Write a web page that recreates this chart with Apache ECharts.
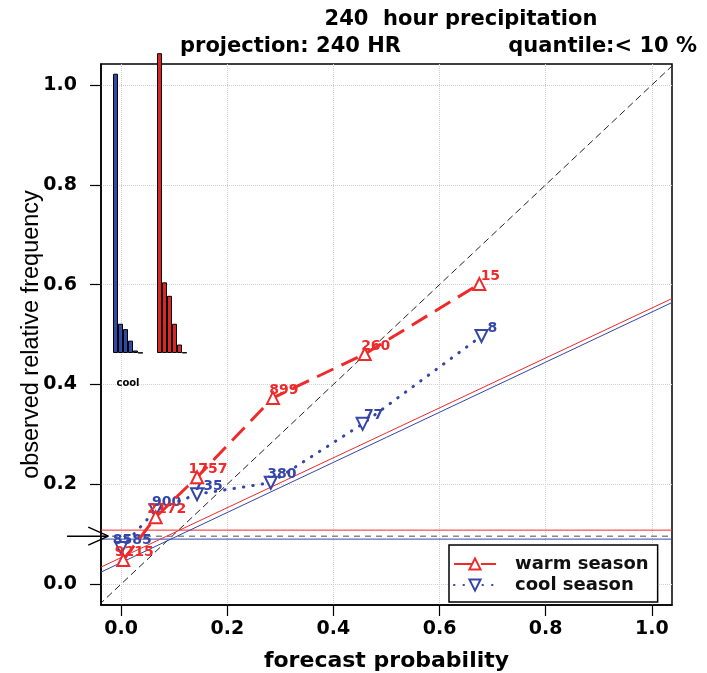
<!DOCTYPE html>
<html>
<head>
<meta charset="utf-8">
<title>240 hour precipitation reliability</title>
<script src="https://cdn.jsdelivr.net/npm/echarts@6.0.0/dist/echarts.min.js"></script>
<style>
  html, body { margin: 0; padding: 0; background: #fff; }
  #chart { width: 707px; height: 673px; }
</style>
</head>
<body>
<div id="chart"></div>
<script>
  // reliability points
  var warmProb = [0.004, 0.065, 0.143, 0.286, 0.459, 0.675];
  var warmObs = [0.048, 0.134, 0.214, 0.373, 0.461, 0.601];
  var warmCount = [9215, 2172, 1757, 899, 260, 15];

  var coolProb = [0.0, 0.065, 0.143, 0.282, 0.455, 0.679];
  var coolObs = [0.072, 0.148, 0.180, 0.203, 0.321, 0.497];
  var coolCount = [8585, 900, 735, 380, 77, 8];

  // fitted lines: [intercept, slope]
  var warmFit = [0.053, 0.500];
  var coolFit = [0.043, 0.502];

  // sample climatology
  var warmClim = 0.108;
  var coolClim = 0.090;
  var allClim = 0.096;

  var tickValues = [0, 0.2, 0.4, 0.6, 0.8, 1.0];

  var RED = '#ee2a2a';
  var BLUE = '#3446a8';
  var BOLD = 'DejaVu Sans';

  var xMin = -0.038, xMax = 1.038;
  var yMin = -0.042, yMax = 1.042;

  // main plot box in pixels
  var boxLeft = 101, boxRight = 35, boxTop = 64, boxBottom = 68;
  var pxPerX = (707 - boxLeft - boxRight) / (xMax - xMin);

  function pairs(xs, ys) {
    return xs.map(function (x, i) { return [x, ys[i]]; });
  }
  function fitLine(f) {
    return [[xMin, f[0] + f[1] * xMin], [xMax, f[0] + f[1] * xMax]];
  }
  function hLine(y) {
    return [[xMin, y], [xMax, y]];
  }
  function plain(name, data, color, width, type, z) {
    return {
      name: name, type: 'line', data: data, symbol: 'none', silent: true,
      z: z || 2,
      lineStyle: { color: color, width: width, type: type || 'solid' }
    };
  }
  function countLabel(counts, color) {
    return {
      show: true,
      position: 'inside',
      offset: [11, -8],
      formatter: function (p) { return counts[p.dataIndex]; },
      color: color,
      fontFamily: BOLD,
      fontWeight: 'bold',
      fontSize: 14
    };
  }

  var chart = echarts.init(document.getElementById('chart'));

  var axisFont = { fontFamily: BOLD, fontWeight: 'bold', fontSize: 19, color: '#000' };
  var gridLine = { type: 'dotted', color: '#d0d0d0', width: 1 };
  var titleFont = { fontFamily: BOLD, fontWeight: 'bold', fontSize: 21, color: '#000' };

  // the little arrow left of the box lives in its own strip with the same scales
  var arrowLeft = 55, arrowWidth = 56;
  var arrowXMin = xMin - (boxLeft - arrowLeft) / pxPerX;
  var arrowXMax = arrowXMin + arrowWidth / pxPerX;

  var option = {
    animation: false,
    backgroundColor: '#fff',
    title: [
      { text: '240  hour precipitation', left: 456, top: 4, textAlign: 'center', textStyle: titleFont },
      { text: 'projection: 240 HR', left: 175, top: 31, textStyle: titleFont },
      { text: 'quantile:< 10 %', right: 5, top: 31, textStyle: titleFont }
    ],
    legend: {
      data: ['warm season', 'cool season'],
      orient: 'vertical',
      left: 449, top: 545,
      padding: [10, 9, 8, 4],
      itemGap: 3,
      itemWidth: 42, itemHeight: 14,
      backgroundColor: '#fff',
      borderColor: '#000', borderWidth: 1.5,
      textStyle: { fontFamily: BOLD, fontWeight: 'bold', fontSize: 18, color: '#111',
                   lineHeight: 18, padding: [0, 0, 0, 14] }
    },
    grid: [
      { left: boxLeft, right: boxRight, top: boxTop, bottom: boxBottom, show: true,
        borderColor: '#000', borderWidth: 1.5, outerBoundsMode: 'none' },
      { left: 113, width: 30, top: 53, height: 300, outerBoundsMode: 'none' },
      { left: 157, width: 30, top: 53, height: 300, outerBoundsMode: 'none' },
      { left: arrowLeft, width: arrowWidth, top: boxTop, bottom: boxBottom, outerBoundsMode: 'none' }
    ],
    xAxis: [
      {
        type: 'value', min: xMin, max: xMax, gridIndex: 0,
        axisLine: { show: true, onZero: false, lineStyle: { color: '#000', width: 1.5 } },
        axisTick: { show: true, length: 11, customValues: tickValues, lineStyle: { color: '#000', width: 1.2 } },
        axisLabel: Object.assign({ customValues: tickValues, margin: 15,
          formatter: function (v) { return v.toFixed(1); } }, axisFont),
        splitLine: { show: true, lineStyle: gridLine },
        name: 'forecast probability', nameLocation: 'middle', nameGap: 45,
        nameTextStyle: { fontFamily: BOLD, fontWeight: 'bold', fontSize: 22, color: '#000' }
      },
      {
        type: 'category', gridIndex: 1, data: coolCount.map(function (c, i) { return i; }),
        axisLine: { show: false }, axisTick: { show: false }, axisLabel: { show: false },
        name: 'cool', nameLocation: 'middle', nameGap: 25,
        nameTextStyle: { fontFamily: BOLD, fontWeight: 'bold', fontSize: 10, color: '#000' }
      },
      {
        type: 'category', gridIndex: 2, data: warmCount.map(function (c, i) { return i; }),
        axisLine: { show: false }, axisTick: { show: false }, axisLabel: { show: false }
      },
      { type: 'value', gridIndex: 3, min: arrowXMin, max: arrowXMax, show: false }
    ],
    yAxis: [
      {
        type: 'value', min: yMin, max: yMax, gridIndex: 0,
        axisLine: { show: true, onZero: false, lineStyle: { color: '#000', width: 1.5 } },
        axisTick: { show: true, length: 11, customValues: tickValues, lineStyle: { color: '#000', width: 1.2 } },
        axisLabel: Object.assign({ customValues: tickValues, margin: 24,
          formatter: function (v) { return v.toFixed(1); } }, axisFont),
        splitLine: { show: true, lineStyle: gridLine },
        name: 'observed relative frequency', nameLocation: 'middle', nameGap: 57,
        nameMoveOverlap: false,
        nameTextStyle: { fontFamily: 'Liberation Sans', fontSize: 23.5, color: '#000' }
      },
      { type: 'value', gridIndex: 1, min: 0, max: 9222, show: false },
      { type: 'value', gridIndex: 2, min: 0, max: 9222, show: false },
      { type: 'value', gridIndex: 3, min: yMin, max: yMax, show: false }
    ],
    series: [
      plain('perfect', [[yMin, yMin], [yMax, yMax]], '#222', 1, [7, 4]),
      plain('warm clim', hLine(warmClim), RED, 1),
      plain('all clim', hLine(allClim), '#888', 1.5, [6, 5]),
      plain('cool clim', hLine(coolClim), BLUE, 1),
      plain('warm fit', fitLine(warmFit), RED, 1),
      plain('cool fit', fitLine(coolFit), BLUE, 1),
      // climatology arrow on the left
      Object.assign(plain('arrow shaft', [[-0.102, allClim], [-0.026, allClim]], '#000', 1.5),
        { xAxisIndex: 3, yAxisIndex: 3 }),
      Object.assign(plain('arrow head', [[-0.062, allClim + 0.018], [-0.024, allClim], [-0.062, allClim - 0.018]], '#000', 1.5),
        { xAxisIndex: 3, yAxisIndex: 3 }),
      {
        name: 'warm season', type: 'line', data: pairs(warmProb, warmObs), z: 4,
        symbol: 'triangle', symbolSize: 12,
        itemStyle: { color: '#fff', borderColor: RED, borderWidth: 2 },
        lineStyle: { color: RED, width: 3, type: [18, 9] },
        label: countLabel(warmCount, RED)
      },
      {
        name: 'cool season', type: 'line', data: pairs(coolProb, coolObs), z: 3,
        symbol: 'triangle', symbolSize: 12, symbolRotate: 180,
        itemStyle: { color: '#fff', borderColor: BLUE, borderWidth: 2 },
        lineStyle: { color: BLUE, width: 3, type: [0.5, 9], cap: 'round' },
        label: countLabel(coolCount, BLUE)
      },
      {
        name: 'cool hist', type: 'bar', xAxisIndex: 1, yAxisIndex: 1, data: coolCount,
        barCategoryGap: '0%', silent: true, z: 5,
        itemStyle: { color: '#2e4aa6', borderColor: '#000', borderWidth: 1 }
      },
      {
        name: 'warm hist', type: 'bar', xAxisIndex: 2, yAxisIndex: 2, data: warmCount,
        barCategoryGap: '0%', silent: true, z: 5,
        itemStyle: { color: '#dc2626', borderColor: '#000', borderWidth: 1 }
      }
    ]
  };

  chart.setOption(option);
</script>
</body>
</html>
